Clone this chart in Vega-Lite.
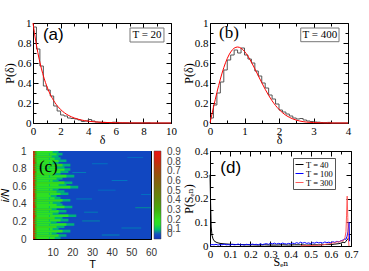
{
"$schema": "https://vega.github.io/schema/vega-lite/v6.json",
"autosize": {"type": "none"},
"padding": {"left": 33, "top": 23, "right": 336, "bottom": 248},
"background": "white",
"config": {
  "view": {"stroke": "black", "strokeWidth": 1},
  "axis": {"grid": false, "domain": false, "labelFlush": false, "labelOverlap": false, "tickColor": "black", "labelColor": "black", "titleColor": "black", "labelFont": "Liberation Serif", "titleFont": "Liberation Serif", "labelFontSize": 11, "titleFontSize": 12, "titleFontWeight": "normal", "tickWidth": 1}
},
"columns": 2,
"spacing": {"row": 28, "column": 39},
"bounds": "flush",
"resolve": {"scale": {"fill": "independent", "stroke": "independent", "strokeWidth": "independent"}, "legend": {"fill": "independent", "stroke": "independent", "strokeWidth": "independent"}},
"concat": [
  {"width": 138, "height": 100,
   "layer": [
    {"data": {"values": [
      {"d":0,"p":0.96},{"d":0.25,"p":0.74},{"d":0.5,"p":0.57},{"d":0.75,"p":0.37},{"d":1,"p":0.33},{"d":1.25,"p":0.27},{"d":1.5,"p":0.17},{"d":1.75,"p":0.12},{"d":2,"p":0.08},{"d":2.25,"p":0.07},{"d":2.5,"p":0.05},{"d":2.75,"p":0.045},{"d":3,"p":0.04},{"d":3.25,"p":0.03},{"d":3.5,"p":0.015},{"d":3.75,"p":0.02},{"d":4,"p":0.035},{"d":4.25,"p":0.02},{"d":4.5,"p":0.01},{"d":4.75,"p":0.008},{"d":5,"p":0.006},{"d":5.25,"p":0.005},{"d":5.5,"p":0.003},{"d":5.75,"p":0.008},{"d":6,"p":0.006},{"d":6.25,"p":0.002},{"d":6.5,"p":0.002},{"d":7,"p":0.001},{"d":8,"p":0.002},{"d":8.5,"p":0},{"d":10,"p":0}
     ]},
     "mark": {"type": "line", "interpolate": "step-after", "color": "#555555", "strokeWidth": 1},
     "encoding": {
      "x": {"field": "d", "type": "quantitative", "scale": {"domain": [0, 10], "nice": false},
            "axis": {"orient": "bottom", "values": [0,1,2,3,4,5,6,7,8,9,10], "labelExpr": "datum.value % 2 == 0 ? format(datum.value, '~g') : ''", "tickSize": {"condition": {"test": "datum.value % 2 == 0", "value": -5}, "value": -3}, "labelPadding": 7, "title": "δ", "titlePadding": -4}},
      "y": {"field": "p", "type": "quantitative", "scale": {"domain": [0, 1], "nice": false},
            "axis": {"orient": "left", "values": [0,0.1,0.2,0.3,0.4,0.5,0.6,0.7,0.8,0.9,1], "labelExpr": "round(datum.value*10) % 2 == 0 ? format(datum.value, '~g') : ''", "tickSize": {"condition": {"test": "round(datum.value*10) % 2 == 0", "value": -5}, "value": -3}, "labelPadding": 7, "title": "P(δ)", "titlePadding": 1}}
     }},
    {"data": {"values": [
      {"d":0,"p":1},{"d":0.1,"p":0.905},{"d":0.2,"p":0.819},{"d":0.3,"p":0.741},{"d":0.4,"p":0.67},{"d":0.5,"p":0.607},{"d":0.6,"p":0.549},{"d":0.8,"p":0.449},{"d":1,"p":0.368},{"d":1.2,"p":0.301},{"d":1.4,"p":0.247},{"d":1.6,"p":0.202},{"d":1.8,"p":0.165},{"d":2,"p":0.135},{"d":2.3,"p":0.1},{"d":2.6,"p":0.074},{"d":3,"p":0.05},{"d":3.5,"p":0.03},{"d":4,"p":0.018},{"d":4.5,"p":0.011},{"d":5,"p":0.0067},{"d":6,"p":0.0025},{"d":7,"p":0.0009},{"d":8,"p":0.0003},{"d":10,"p":0}
     ]},
     "mark": {"type": "line", "color": "#ff0000", "strokeWidth": 1, "interpolate": "monotone"},
     "encoding": {
      "x": {"field": "d", "type": "quantitative", "axis": {"orient": "top", "values": [0,1,2,3,4,5,6,7,8,9,10], "labels": false, "tickSize": {"condition": {"test": "datum.value % 2 == 0", "value": -5}, "value": -3}, "title": null}},
      "y": {"field": "p", "type": "quantitative", "axis": {"orient": "right", "values": [0,0.1,0.2,0.3,0.4,0.5,0.6,0.7,0.8,0.9,1], "labels": false, "tickSize": {"condition": {"test": "round(datum.value*10) % 2 == 0", "value": -5}, "value": -3}, "title": null}}
     }},
    {"data": {"values": [{}]},
     "mark": {"type": "rect", "fill": "white", "stroke": "#777777", "strokeWidth": 1},
     "encoding": {"x": {"datum": 7.03, "type": "quantitative", "axis": null}, "x2": {"datum": 9.49}, "y": {"datum": 0.95, "type": "quantitative", "axis": null}, "y2": {"datum": 0.81}}},
    {"data": {"values": [{}]},
     "mark": {"type": "text", "text": "T = 20", "font": "Liberation Serif", "fontSize": 11, "baseline": "middle", "align": "center"},
     "encoding": {"x": {"datum": 8.26, "type": "quantitative", "axis": null}, "y": {"datum": 0.878, "type": "quantitative", "axis": null}}},
    {"data": {"values": [{}]},
     "mark": {"type": "text", "text": "(a)", "font": "Liberation Sans", "fontSize": 17, "baseline": "middle", "align": "center"},
     "encoding": {"x": {"datum": 1.47, "type": "quantitative", "axis": null}, "y": {"datum": 0.885, "type": "quantitative", "axis": null}}}
   ],
   "resolve": {"axis": {"x": "independent", "y": "independent"}}
  },
  {"width": 138, "height": 100,
   "layer": [
    {"data": {"values": [
      {"d":0,"p":0.05},{"d":0.1,"p":0.18},{"d":0.2,"p":0.3},{"d":0.3,"p":0.41},{"d":0.4,"p":0.53},{"d":0.5,"p":0.63},{"d":0.6,"p":0.68},{"d":0.7,"p":0.73},{"d":0.8,"p":0.7},{"d":0.9,"p":0.75},{"d":1,"p":0.68},{"d":1.1,"p":0.64},{"d":1.2,"p":0.6},{"d":1.3,"p":0.52},{"d":1.4,"p":0.47},{"d":1.5,"p":0.4},{"d":1.6,"p":0.35},{"d":1.7,"p":0.28},{"d":1.8,"p":0.24},{"d":1.9,"p":0.19},{"d":2,"p":0.13},{"d":2.1,"p":0.11},{"d":2.2,"p":0.09},{"d":2.3,"p":0.07},{"d":2.4,"p":0.05},{"d":2.5,"p":0.04},{"d":2.6,"p":0.045},{"d":2.7,"p":0.03},{"d":2.8,"p":0.02},{"d":2.9,"p":0.015},{"d":3,"p":0.01},{"d":3.1,"p":0.008},{"d":3.2,"p":0.005},{"d":3.3,"p":0.004},{"d":3.4,"p":0.006},{"d":3.5,"p":0},{"d":4,"p":0}
     ]},
     "mark": {"type": "line", "interpolate": "step-after", "color": "#555555", "strokeWidth": 1},
     "encoding": {
      "x": {"field": "d", "type": "quantitative", "scale": {"domain": [0, 4], "nice": false},
            "axis": {"orient": "bottom", "values": [0,0.5,1,1.5,2,2.5,3,3.5,4], "labelExpr": "datum.value % 1 == 0 ? format(datum.value, '~g') : ''", "tickSize": {"condition": {"test": "datum.value % 1 == 0", "value": -5}, "value": -3}, "labelPadding": 7, "title": "δ", "titlePadding": -4}},
      "y": {"field": "p", "type": "quantitative", "scale": {"domain": [0, 1], "nice": false},
            "axis": {"orient": "left", "values": [0,0.1,0.2,0.3,0.4,0.5,0.6,0.7,0.8,0.9,1], "labelExpr": "round(datum.value*10) % 2 == 0 ? format(datum.value, '~g') : ''", "tickSize": {"condition": {"test": "round(datum.value*10) % 2 == 0", "value": -5}, "value": -3}, "labelPadding": 7, "title": "P(δ)", "titlePadding": -1}}
     }},
    {"data": {"values": [
      {"d":0,"p":0},{"d":0.1,"p":0.156},{"d":0.2,"p":0.305},{"d":0.3,"p":0.439},{"d":0.4,"p":0.554},{"d":0.5,"p":0.645},{"d":0.6,"p":0.71},{"d":0.7,"p":0.748},{"d":0.8,"p":0.76},{"d":0.9,"p":0.748},{"d":1,"p":0.716},{"d":1.1,"p":0.668},{"d":1.2,"p":0.608},{"d":1.3,"p":0.542},{"d":1.4,"p":0.472},{"d":1.5,"p":0.403},{"d":1.6,"p":0.337},{"d":1.7,"p":0.276},{"d":1.8,"p":0.222},{"d":1.9,"p":0.175},{"d":2,"p":0.136},{"d":2.2,"p":0.077},{"d":2.4,"p":0.041},{"d":2.6,"p":0.02},{"d":2.8,"p":0.009},{"d":3,"p":0.004},{"d":3.3,"p":0.001},{"d":3.6,"p":0.0001},{"d":4,"p":0}
     ]},
     "mark": {"type": "line", "color": "#ff0000", "strokeWidth": 1, "interpolate": "monotone"},
     "encoding": {
      "x": {"field": "d", "type": "quantitative", "axis": {"orient": "top", "values": [0,0.5,1,1.5,2,2.5,3,3.5,4], "labels": false, "tickSize": {"condition": {"test": "datum.value % 1 == 0", "value": -5}, "value": -3}, "title": null}},
      "y": {"field": "p", "type": "quantitative", "axis": {"orient": "right", "values": [0,0.1,0.2,0.3,0.4,0.5,0.6,0.7,0.8,0.9,1], "labels": false, "tickSize": {"condition": {"test": "round(datum.value*10) % 2 == 0", "value": -5}, "value": -3}, "title": null}}
     }},
    {"data": {"values": [{}]},
     "mark": {"type": "rect", "fill": "white", "stroke": "#777777", "strokeWidth": 1},
     "encoding": {"x": {"datum": 2.63, "type": "quantitative", "axis": null}, "x2": {"datum": 3.74}, "y": {"datum": 0.95, "type": "quantitative", "axis": null}, "y2": {"datum": 0.813}}},
    {"data": {"values": [{}]},
     "mark": {"type": "text", "text": "T = 400", "font": "Liberation Serif", "fontSize": 11, "baseline": "middle", "align": "center"},
     "encoding": {"x": {"datum": 3.185, "type": "quantitative", "axis": null}, "y": {"datum": 0.878, "type": "quantitative", "axis": null}}},
    {"data": {"values": [{}]},
     "mark": {"type": "text", "text": "(b)", "font": "Liberation Serif", "fontSize": 17, "baseline": "middle", "align": "center"},
     "encoding": {"x": {"datum": 0.55, "type": "quantitative", "axis": null}, "y": {"datum": 0.9, "type": "quantitative", "axis": null}}}
   ],
   "resolve": {"axis": {"x": "independent", "y": "independent"}}
  },
  {"width": 118, "height": 88,
   "layer": [
    {"data": {"values": [
      {"a":0,"b":60,"y":0,"z":1,"v":0.03},
      {"a":22,"b":30,"y":0.45,"z":0.46,"v":0.065},{"a":25,"b":34,"y":0.2,"z":0.21,"v":0.07},{"a":40,"b":48,"y":0.66,"z":0.67,"v":0.06},{"a":52,"b":60,"y":0.35,"z":0.36,"v":0.075},{"a":30,"b":38,"y":0.85,"z":0.86,"v":0.06},{"a":45,"b":55,"y":0.12,"z":0.13,"v":0.065},{"a":33,"b":42,"y":0.55,"z":0.56,"v":0.06},{"a":20,"b":27,"y":0.75,"z":0.76,"v":0.065},{"a":48,"b":56,"y":0.92,"z":0.93,"v":0.06},{"a":35,"b":44,"y":0.04,"z":0.05,"v":0.065},{"a":55,"b":60,"y":0.5,"z":0.51,"v":0.06},{"a":26,"b":33,"y":0.3,"z":0.31,"v":0.065},
      {"a":0,"b":14,"y":0,"z":0.029,"v":0.09},{"a":0,"b":11,"y":0,"z":0.029,"v":0.19},{"a":0,"b":1.8,"y":0,"z":0.029,"v":0.36},{"a":0,"b":0.9,"y":0,"z":0.029,"v":0.84},{"a":8.1,"b":8.6,"y":0,"z":0.029,"v":0.1},
      {"a":0,"b":17,"y":0.025,"z":0.054,"v":0.09},{"a":0,"b":13,"y":0.025,"z":0.054,"v":0.22},{"a":0,"b":1.8,"y":0.025,"z":0.054,"v":0.3},{"a":0,"b":0.9,"y":0.025,"z":0.054,"v":0.78},
      {"a":0,"b":12,"y":0.05,"z":0.079,"v":0.09},{"a":0,"b":9.5,"y":0.05,"z":0.079,"v":0.17},{"a":0,"b":1.8,"y":0.05,"z":0.079,"v":0.42},{"a":0,"b":0.9,"y":0.05,"z":0.079,"v":0.88},{"a":8.1,"b":8.6,"y":0.05,"z":0.079,"v":0.1},
      {"a":0,"b":19,"y":0.075,"z":0.104,"v":0.09},{"a":0,"b":15,"y":0.075,"z":0.104,"v":0.2},{"a":0,"b":1.8,"y":0.075,"z":0.104,"v":0.34},{"a":0,"b":0.9,"y":0.075,"z":0.104,"v":0.8},
      {"a":0,"b":13,"y":0.1,"z":0.129,"v":0.09},{"a":0,"b":10,"y":0.1,"z":0.129,"v":0.19},{"a":0,"b":1.8,"y":0.1,"z":0.129,"v":0.36},{"a":0,"b":0.9,"y":0.1,"z":0.129,"v":0.84},{"a":8.1,"b":8.6,"y":0.1,"z":0.129,"v":0.1},
      {"a":0,"b":16,"y":0.125,"z":0.154,"v":0.09},{"a":0,"b":12,"y":0.125,"z":0.154,"v":0.22},{"a":0,"b":1.8,"y":0.125,"z":0.154,"v":0.3},{"a":0,"b":0.9,"y":0.125,"z":0.154,"v":0.78},
      {"a":0,"b":21,"y":0.15,"z":0.179,"v":0.09},{"a":0,"b":17,"y":0.15,"z":0.179,"v":0.17},{"a":0,"b":1.8,"y":0.15,"z":0.179,"v":0.42},{"a":0,"b":0.9,"y":0.15,"z":0.179,"v":0.88},{"a":8.1,"b":8.6,"y":0.15,"z":0.179,"v":0.1},
      {"a":0,"b":12,"y":0.175,"z":0.204,"v":0.09},{"a":0,"b":9,"y":0.175,"z":0.204,"v":0.2},{"a":0,"b":1.8,"y":0.175,"z":0.204,"v":0.34},{"a":0,"b":0.9,"y":0.175,"z":0.204,"v":0.8},
      {"a":0,"b":18,"y":0.2,"z":0.229,"v":0.09},{"a":0,"b":14,"y":0.2,"z":0.229,"v":0.19},{"a":0,"b":1.8,"y":0.2,"z":0.229,"v":0.36},{"a":0,"b":0.9,"y":0.2,"z":0.229,"v":0.84},{"a":8.1,"b":8.6,"y":0.2,"z":0.229,"v":0.1},
      {"a":0,"b":15,"y":0.225,"z":0.254,"v":0.09},{"a":0,"b":11,"y":0.225,"z":0.254,"v":0.22},{"a":0,"b":1.8,"y":0.225,"z":0.254,"v":0.3},{"a":0,"b":0.9,"y":0.225,"z":0.254,"v":0.78},
      {"a":0,"b":22,"y":0.25,"z":0.279,"v":0.09},{"a":0,"b":18,"y":0.25,"z":0.279,"v":0.17},{"a":0,"b":1.8,"y":0.25,"z":0.279,"v":0.42},{"a":0,"b":0.9,"y":0.25,"z":0.279,"v":0.88},{"a":8.1,"b":8.6,"y":0.25,"z":0.279,"v":0.1},
      {"a":0,"b":13,"y":0.275,"z":0.304,"v":0.09},{"a":0,"b":10,"y":0.275,"z":0.304,"v":0.2},{"a":0,"b":1.8,"y":0.275,"z":0.304,"v":0.34},{"a":0,"b":0.9,"y":0.275,"z":0.304,"v":0.8},
      {"a":0,"b":17,"y":0.3,"z":0.329,"v":0.09},{"a":0,"b":13,"y":0.3,"z":0.329,"v":0.19},{"a":0,"b":1.8,"y":0.3,"z":0.329,"v":0.36},{"a":0,"b":0.9,"y":0.3,"z":0.329,"v":0.84},{"a":8.1,"b":8.6,"y":0.3,"z":0.329,"v":0.1},
      {"a":0,"b":12,"y":0.325,"z":0.354,"v":0.09},{"a":0,"b":9.5,"y":0.325,"z":0.354,"v":0.22},{"a":0,"b":1.8,"y":0.325,"z":0.354,"v":0.3},{"a":0,"b":0.9,"y":0.325,"z":0.354,"v":0.78},
      {"a":0,"b":20,"y":0.35,"z":0.379,"v":0.09},{"a":0,"b":16,"y":0.35,"z":0.379,"v":0.17},{"a":0,"b":1.8,"y":0.35,"z":0.379,"v":0.42},{"a":0,"b":0.9,"y":0.35,"z":0.379,"v":0.88},{"a":8.1,"b":8.6,"y":0.35,"z":0.379,"v":0.1},
      {"a":0,"b":15,"y":0.375,"z":0.404,"v":0.09},{"a":0,"b":12,"y":0.375,"z":0.404,"v":0.2},{"a":0,"b":1.8,"y":0.375,"z":0.404,"v":0.34},{"a":0,"b":0.9,"y":0.375,"z":0.404,"v":0.8},
      {"a":0,"b":14,"y":0.4,"z":0.429,"v":0.09},{"a":0,"b":10,"y":0.4,"z":0.429,"v":0.19},{"a":0,"b":1.8,"y":0.4,"z":0.429,"v":0.36},{"a":0,"b":0.9,"y":0.4,"z":0.429,"v":0.84},{"a":8.1,"b":8.6,"y":0.4,"z":0.429,"v":0.1},
      {"a":0,"b":19,"y":0.425,"z":0.454,"v":0.09},{"a":0,"b":15,"y":0.425,"z":0.454,"v":0.22},{"a":0,"b":1.8,"y":0.425,"z":0.454,"v":0.3},{"a":0,"b":0.9,"y":0.425,"z":0.454,"v":0.78},
      {"a":0,"b":14,"y":0.45,"z":0.479,"v":0.09},{"a":0,"b":11,"y":0.45,"z":0.479,"v":0.17},{"a":0,"b":1.8,"y":0.45,"z":0.479,"v":0.42},{"a":0,"b":0.9,"y":0.45,"z":0.479,"v":0.88},{"a":8.1,"b":8.6,"y":0.45,"z":0.479,"v":0.1},
      {"a":0,"b":12,"y":0.475,"z":0.504,"v":0.09},{"a":0,"b":9,"y":0.475,"z":0.504,"v":0.2},{"a":0,"b":1.8,"y":0.475,"z":0.504,"v":0.34},{"a":0,"b":0.9,"y":0.475,"z":0.504,"v":0.8},
      {"a":0,"b":18,"y":0.5,"z":0.529,"v":0.09},{"a":0,"b":14,"y":0.5,"z":0.529,"v":0.19},{"a":0,"b":1.8,"y":0.5,"z":0.529,"v":0.36},{"a":0,"b":0.9,"y":0.5,"z":0.529,"v":0.84},{"a":8.1,"b":8.6,"y":0.5,"z":0.529,"v":0.1},
      {"a":0,"b":16,"y":0.525,"z":0.554,"v":0.09},{"a":0,"b":12,"y":0.525,"z":0.554,"v":0.22},{"a":0,"b":1.8,"y":0.525,"z":0.554,"v":0.3},{"a":0,"b":0.9,"y":0.525,"z":0.554,"v":0.78},
      {"a":0,"b":13,"y":0.55,"z":0.579,"v":0.09},{"a":0,"b":10,"y":0.55,"z":0.579,"v":0.17},{"a":0,"b":1.8,"y":0.55,"z":0.579,"v":0.42},{"a":0,"b":0.9,"y":0.55,"z":0.579,"v":0.88},{"a":8.1,"b":8.6,"y":0.55,"z":0.579,"v":0.1},
      {"a":0,"b":23,"y":0.575,"z":0.604,"v":0.09},{"a":0,"b":19,"y":0.575,"z":0.604,"v":0.2},{"a":0,"b":1.8,"y":0.575,"z":0.604,"v":0.34},{"a":0,"b":0.9,"y":0.575,"z":0.604,"v":0.8},
      {"a":0,"b":17,"y":0.6,"z":0.629,"v":0.09},{"a":0,"b":13,"y":0.6,"z":0.629,"v":0.19},{"a":0,"b":1.8,"y":0.6,"z":0.629,"v":0.36},{"a":0,"b":0.9,"y":0.6,"z":0.629,"v":0.84},{"a":8.1,"b":8.6,"y":0.6,"z":0.629,"v":0.1},
      {"a":0,"b":20,"y":0.625,"z":0.654,"v":0.09},{"a":0,"b":16,"y":0.625,"z":0.654,"v":0.22},{"a":0,"b":1.8,"y":0.625,"z":0.654,"v":0.3},{"a":0,"b":0.9,"y":0.625,"z":0.654,"v":0.78},
      {"a":0,"b":13,"y":0.65,"z":0.679,"v":0.09},{"a":0,"b":10,"y":0.65,"z":0.679,"v":0.17},{"a":0,"b":1.8,"y":0.65,"z":0.679,"v":0.42},{"a":0,"b":0.9,"y":0.65,"z":0.679,"v":0.88},{"a":8.1,"b":8.6,"y":0.65,"z":0.679,"v":0.1},
      {"a":0,"b":15,"y":0.675,"z":0.704,"v":0.09},{"a":0,"b":12,"y":0.675,"z":0.704,"v":0.2},{"a":0,"b":1.8,"y":0.675,"z":0.704,"v":0.34},{"a":0,"b":0.9,"y":0.675,"z":0.704,"v":0.8},
      {"a":0,"b":21,"y":0.7,"z":0.729,"v":0.09},{"a":0,"b":17,"y":0.7,"z":0.729,"v":0.19},{"a":0,"b":1.8,"y":0.7,"z":0.729,"v":0.36},{"a":0,"b":0.9,"y":0.7,"z":0.729,"v":0.84},{"a":8.1,"b":8.6,"y":0.7,"z":0.729,"v":0.1},
      {"a":0,"b":14,"y":0.725,"z":0.754,"v":0.09},{"a":0,"b":11,"y":0.725,"z":0.754,"v":0.22},{"a":0,"b":1.8,"y":0.725,"z":0.754,"v":0.3},{"a":0,"b":0.9,"y":0.725,"z":0.754,"v":0.78},
      {"a":0,"b":18,"y":0.75,"z":0.779,"v":0.09},{"a":0,"b":14,"y":0.75,"z":0.779,"v":0.17},{"a":0,"b":1.8,"y":0.75,"z":0.779,"v":0.42},{"a":0,"b":0.9,"y":0.75,"z":0.779,"v":0.88},{"a":8.1,"b":8.6,"y":0.75,"z":0.779,"v":0.1},
      {"a":0,"b":19,"y":0.775,"z":0.804,"v":0.09},{"a":0,"b":16,"y":0.775,"z":0.804,"v":0.2},{"a":0,"b":1.8,"y":0.775,"z":0.804,"v":0.34},{"a":0,"b":0.9,"y":0.775,"z":0.804,"v":0.8},
      {"a":0,"b":16,"y":0.8,"z":0.829,"v":0.09},{"a":0,"b":12,"y":0.8,"z":0.829,"v":0.19},{"a":0,"b":1.8,"y":0.8,"z":0.829,"v":0.36},{"a":0,"b":0.9,"y":0.8,"z":0.829,"v":0.84},{"a":8.1,"b":8.6,"y":0.8,"z":0.829,"v":0.1},
      {"a":0,"b":19,"y":0.825,"z":0.854,"v":0.09},{"a":0,"b":15,"y":0.825,"z":0.854,"v":0.22},{"a":0,"b":1.8,"y":0.825,"z":0.854,"v":0.3},{"a":0,"b":0.9,"y":0.825,"z":0.854,"v":0.78},
      {"a":0,"b":13,"y":0.85,"z":0.879,"v":0.09},{"a":0,"b":10,"y":0.85,"z":0.879,"v":0.17},{"a":0,"b":1.8,"y":0.85,"z":0.879,"v":0.42},{"a":0,"b":0.9,"y":0.85,"z":0.879,"v":0.88},{"a":8.1,"b":8.6,"y":0.85,"z":0.879,"v":0.1},
      {"a":0,"b":17,"y":0.875,"z":0.904,"v":0.09},{"a":0,"b":13,"y":0.875,"z":0.904,"v":0.2},{"a":0,"b":1.8,"y":0.875,"z":0.904,"v":0.34},{"a":0,"b":0.9,"y":0.875,"z":0.904,"v":0.8},
      {"a":0,"b":14,"y":0.9,"z":0.929,"v":0.09},{"a":0,"b":11,"y":0.9,"z":0.929,"v":0.19},{"a":0,"b":1.8,"y":0.9,"z":0.929,"v":0.36},{"a":0,"b":0.9,"y":0.9,"z":0.929,"v":0.84},{"a":8.1,"b":8.6,"y":0.9,"z":0.929,"v":0.1},
      {"a":0,"b":13,"y":0.925,"z":0.954,"v":0.09},{"a":0,"b":9.5,"y":0.925,"z":0.954,"v":0.22},{"a":0,"b":1.8,"y":0.925,"z":0.954,"v":0.3},{"a":0,"b":0.9,"y":0.925,"z":0.954,"v":0.78},
      {"a":0,"b":15,"y":0.95,"z":0.979,"v":0.09},{"a":0,"b":12,"y":0.95,"z":0.979,"v":0.17},{"a":0,"b":1.8,"y":0.95,"z":0.979,"v":0.42},{"a":0,"b":0.9,"y":0.95,"z":0.979,"v":0.88},{"a":8.1,"b":8.6,"y":0.95,"z":0.979,"v":0.1},
      {"a":0,"b":13,"y":0.975,"z":1,"v":0.09},{"a":0,"b":10,"y":0.975,"z":1,"v":0.2},{"a":0,"b":1.8,"y":0.975,"z":1,"v":0.34},{"a":0,"b":0.9,"y":0.975,"z":1,"v":0.8}
     ]},
     "mark": {"type": "rect"},
     "encoding": {
      "x": {"field": "a", "type": "quantitative", "scale": {"domain": [0, 60], "nice": false},
            "axis": {"orient": "bottom", "values": [10,20,30,40,50,60], "format": "d", "tickSize": -4, "labelPadding": 12, "labelFont": "Liberation Sans", "labelFontSize": 10, "labelColor": "#333333", "title": "T", "titleFont": "Liberation Sans", "titleFontSize": 11, "titlePadding": 1}},
      "x2": {"field": "b"},
      "y": {"field": "y", "type": "quantitative", "scale": {"domain": [0, 1], "nice": false},
            "axis": {"orient": "left", "values": [0,0.2,0.4,0.6,0.8,1], "format": "~g", "tickSize": -4, "labelPadding": 11, "labelFont": "Liberation Sans", "labelFontSize": 10, "labelColor": "#333333", "title": "i/N", "titleFont": "Liberation Sans", "titleFontStyle": "italic", "titleFontSize": 11, "titlePadding": 2}},
      "y2": {"field": "z"},
      "fill": {"field": "v", "type": "quantitative",
               "scale": {"domain": [0, 0.05, 0.08, 0.12, 0.2, 0.3, 0.4, 0.5, 0.6, 0.7, 0.8, 0.91], "range": ["#1038c0", "#1850c0", "#18a080", "#20e030", "#30e020", "#40b010", "#5a9010", "#707810", "#856010", "#a04810", "#c82a10", "#f01010"], "clamp": true},
               "legend": {"orient": "none", "legendX": 121, "legendY": 0, "title": null, "direction": "vertical", "gradientLength": 88, "gradientThickness": 7, "gradientStrokeColor": "#444444", "gradientStrokeWidth": 0.5, "values": [0,0.1,0.2,0.3,0.4,0.5,0.6,0.7,0.8,0.9], "format": "~g", "labelFont": "Liberation Sans", "labelFontSize": 10, "labelColor": "#444444", "labelOffset": 6, "padding": 0, "labelOverlap": false}}
     }},
    {"data": {"values": [{}]},
     "mark": {"type": "text", "text": "(c)", "font": "Liberation Serif", "fontSize": 17, "baseline": "middle", "align": "center"},
     "encoding": {
      "x": {"datum": 7.8, "type": "quantitative", "axis": {"orient": "top", "values": [10,20,30,40,50,60], "labels": false, "tickSize": -4, "title": null}},
      "y": {"datum": 0.815, "type": "quantitative", "axis": {"orient": "right", "values": [0,0.2,0.4,0.6,0.8,1], "labels": false, "tickSize": -4, "title": null}}
     }}
   ],
   "resolve": {"axis": {"x": "independent", "y": "independent"}}
  },
  {"width": 141, "height": 95,
   "layer": [
    {"data": {"values": [
      {"s":0,"p":0.3,"k":"T = 40"},{"s":0.003,"p":0.18,"k":"T = 40"},{"s":0.006,"p":0.08,"k":"T = 40"},{"s":0.01,"p":0.045,"k":"T = 40"},{"s":0.015,"p":0.03,"k":"T = 40"},{"s":0.02,"p":0.022,"k":"T = 40"},{"s":0.03,"p":0.016,"k":"T = 40"},{"s":0.04,"p":0.013,"k":"T = 40"},{"s":0.05,"p":0.011,"k":"T = 40"},{"s":0.07,"p":0.009,"k":"T = 40"},{"s":0.09,"p":0.008,"k":"T = 40"},{"s":0.11,"p":0.007,"k":"T = 40"},{"s":0.13,"p":0.006,"k":"T = 40"},{"s":0.15,"p":0.006,"k":"T = 40"},{"s":0.18,"p":0.005,"k":"T = 40"},{"s":0.21,"p":0.005,"k":"T = 40"},{"s":0.24,"p":0.004,"k":"T = 40"},{"s":0.27,"p":0.005,"k":"T = 40"},{"s":0.3,"p":0.004,"k":"T = 40"},{"s":0.33,"p":0.004,"k":"T = 40"},{"s":0.36,"p":0.005,"k":"T = 40"},{"s":0.39,"p":0.004,"k":"T = 40"},{"s":0.42,"p":0.005,"k":"T = 40"},{"s":0.45,"p":0.005,"k":"T = 40"},{"s":0.48,"p":0.004,"k":"T = 40"},{"s":0.51,"p":0.005,"k":"T = 40"},{"s":0.54,"p":0.005,"k":"T = 40"},{"s":0.57,"p":0.006,"k":"T = 40"},{"s":0.6,"p":0.006,"k":"T = 40"},{"s":0.62,"p":0.008,"k":"T = 40"},{"s":0.64,"p":0.01,"k":"T = 40"},{"s":0.65,"p":0.012,"k":"T = 40"},{"s":0.66,"p":0.016,"k":"T = 40"},{"s":0.67,"p":0.014,"k":"T = 40"},{"s":0.675,"p":0.02,"k":"T = 40"},{"s":0.68,"p":0.026,"k":"T = 40"},{"s":0.685,"p":0.03,"k":"T = 40"},{"s":0.69,"p":0.035,"k":"T = 40"},
      {"s":0,"p":0.004,"k":"T = 100"},{"s":0.01,"p":0.006,"k":"T = 100"},{"s":0.02,"p":0.005,"k":"T = 100"},{"s":0.03,"p":0.007,"k":"T = 100"},{"s":0.04,"p":0.004,"k":"T = 100"},{"s":0.05,"p":0.006,"k":"T = 100"},{"s":0.06,"p":0.005,"k":"T = 100"},{"s":0.07,"p":0.008,"k":"T = 100"},{"s":0.08,"p":0.005,"k":"T = 100"},{"s":0.09,"p":0.006,"k":"T = 100"},{"s":0.1,"p":0.004,"k":"T = 100"},{"s":0.11,"p":0.007,"k":"T = 100"},{"s":0.12,"p":0.005,"k":"T = 100"},{"s":0.13,"p":0.006,"k":"T = 100"},{"s":0.14,"p":0.008,"k":"T = 100"},{"s":0.15,"p":0.005,"k":"T = 100"},{"s":0.16,"p":0.006,"k":"T = 100"},{"s":0.17,"p":0.004,"k":"T = 100"},{"s":0.18,"p":0.007,"k":"T = 100"},{"s":0.19,"p":0.006,"k":"T = 100"},{"s":0.2,"p":0.005,"k":"T = 100"},{"s":0.21,"p":0.008,"k":"T = 100"},{"s":0.22,"p":0.006,"k":"T = 100"},{"s":0.23,"p":0.007,"k":"T = 100"},{"s":0.24,"p":0.005,"k":"T = 100"},{"s":0.25,"p":0.009,"k":"T = 100"},{"s":0.26,"p":0.006,"k":"T = 100"},{"s":0.27,"p":0.008,"k":"T = 100"},{"s":0.28,"p":0.01,"k":"T = 100"},{"s":0.29,"p":0.007,"k":"T = 100"},{"s":0.3,"p":0.011,"k":"T = 100"},{"s":0.31,"p":0.009,"k":"T = 100"},{"s":0.32,"p":0.012,"k":"T = 100"},{"s":0.33,"p":0.008,"k":"T = 100"},{"s":0.34,"p":0.011,"k":"T = 100"},{"s":0.35,"p":0.009,"k":"T = 100"},{"s":0.36,"p":0.012,"k":"T = 100"},{"s":0.37,"p":0.01,"k":"T = 100"},{"s":0.38,"p":0.008,"k":"T = 100"},{"s":0.39,"p":0.011,"k":"T = 100"},{"s":0.4,"p":0.009,"k":"T = 100"},{"s":0.41,"p":0.012,"k":"T = 100"},{"s":0.42,"p":0.01,"k":"T = 100"},{"s":0.43,"p":0.014,"k":"T = 100"},{"s":0.44,"p":0.011,"k":"T = 100"},{"s":0.45,"p":0.016,"k":"T = 100"},{"s":0.46,"p":0.012,"k":"T = 100"},{"s":0.47,"p":0.015,"k":"T = 100"},{"s":0.48,"p":0.011,"k":"T = 100"},{"s":0.49,"p":0.013,"k":"T = 100"},{"s":0.5,"p":0.01,"k":"T = 100"},{"s":0.51,"p":0.014,"k":"T = 100"},{"s":0.52,"p":0.012,"k":"T = 100"},{"s":0.53,"p":0.016,"k":"T = 100"},{"s":0.54,"p":0.013,"k":"T = 100"},{"s":0.55,"p":0.015,"k":"T = 100"},{"s":0.56,"p":0.012,"k":"T = 100"},{"s":0.57,"p":0.017,"k":"T = 100"},{"s":0.58,"p":0.014,"k":"T = 100"},{"s":0.59,"p":0.016,"k":"T = 100"},{"s":0.6,"p":0.013,"k":"T = 100"},{"s":0.61,"p":0.018,"k":"T = 100"},{"s":0.62,"p":0.015,"k":"T = 100"},{"s":0.63,"p":0.02,"k":"T = 100"},{"s":0.64,"p":0.017,"k":"T = 100"},{"s":0.65,"p":0.022,"k":"T = 100"},{"s":0.66,"p":0.025,"k":"T = 100"},{"s":0.67,"p":0.03,"k":"T = 100"},{"s":0.675,"p":0.028,"k":"T = 100"},{"s":0.68,"p":0.04,"k":"T = 100"},{"s":0.685,"p":0.06,"k":"T = 100"},{"s":0.69,"p":0.1,"k":"T = 100"},{"s":0.693,"p":0.02,"k":"T = 100"},
      {"s":0.45,"p":0.001,"k":"T = 300"},{"s":0.5,"p":0.002,"k":"T = 300"},{"s":0.53,"p":0.003,"k":"T = 300"},{"s":0.56,"p":0.005,"k":"T = 300"},{"s":0.58,"p":0.008,"k":"T = 300"},{"s":0.6,"p":0.01,"k":"T = 300"},{"s":0.61,"p":0.014,"k":"T = 300"},{"s":0.62,"p":0.012,"k":"T = 300"},{"s":0.63,"p":0.018,"k":"T = 300"},{"s":0.64,"p":0.016,"k":"T = 300"},{"s":0.65,"p":0.022,"k":"T = 300"},{"s":0.66,"p":0.02,"k":"T = 300"},{"s":0.665,"p":0.028,"k":"T = 300"},{"s":0.67,"p":0.035,"k":"T = 300"},{"s":0.675,"p":0.06,"k":"T = 300"},{"s":0.678,"p":0.13,"k":"T = 300"},{"s":0.681,"p":0.21,"k":"T = 300"},{"s":0.684,"p":0.12,"k":"T = 300"},{"s":0.687,"p":0.03,"k":"T = 300"},{"s":0.69,"p":0,"k":"T = 300"}
     ]},
     "mark": {"type": "line"},
     "encoding": {
      "x": {"field": "s", "type": "quantitative", "scale": {"domain": [0, 0.7], "nice": false},
            "axis": {"orient": "bottom", "values": [0,0.05,0.1,0.15,0.2,0.25,0.3,0.35,0.4,0.45,0.5,0.55,0.6,0.65,0.7], "labelExpr": "round(datum.value*20) % 2 == 0 ? format(datum.value, '~g') : ''", "tickSize": {"condition": {"test": "round(datum.value*20) % 2 == 0", "value": -5}, "value": -3}, "labelPadding": 7, "title": "Sₑₙ", "titleFont": "Liberation Serif, DejaVu Serif", "titlePadding": -5}},
      "y": {"field": "p", "type": "quantitative", "scale": {"domain": [0, 0.4], "nice": false},
            "axis": {"orient": "left", "values": [0,0.05,0.1,0.15,0.2,0.25,0.3,0.35,0.4], "labelExpr": "round(datum.value*20) % 2 == 0 ? format(datum.value, '~g') : ''", "tickSize": {"condition": {"test": "round(datum.value*20) % 2 == 0", "value": -5}, "value": -3}, "labelPadding": 7, "title": "P(Sₑₙ)", "titleFont": "Liberation Serif, DejaVu Serif", "titlePadding": -1}},
      "stroke": {"field": "k", "type": "nominal", "scale": {"domain": ["T = 40", "T = 100", "T = 300"], "range": ["#000000", "#0000ff", "#ff5a5a"]},
                 "legend": {"orient": "none", "legendX": 83, "legendY": 7, "title": null, "symbolType": "stroke", "symbolSize": 64, "symbolStrokeWidth": 1.5, "labelFont": "Liberation Serif", "labelFontSize": 8.5, "labelOffset": 2, "rowPadding": -2, "padding": 2, "strokeColor": "#555555", "fillColor": "white"}},
      "strokeWidth": {"field": "k", "type": "ordinal", "scale": {"domain": ["T = 40", "T = 100", "T = 300"], "range": [1, 1, 2.5]}, "legend": null}
     }},
    {"data": {"values": [{}]},
     "mark": {"type": "text", "text": "(d)", "font": "Liberation Sans", "fontSize": 17, "baseline": "middle", "align": "center"},
     "encoding": {
      "x": {"datum": 0.103, "type": "quantitative", "axis": {"orient": "top", "values": [0,0.05,0.1,0.15,0.2,0.25,0.3,0.35,0.4,0.45,0.5,0.55,0.6,0.65,0.7], "labels": false, "tickSize": {"condition": {"test": "round(datum.value*20) % 2 == 0", "value": -5}, "value": -3}, "title": null}},
      "y": {"datum": 0.327, "type": "quantitative", "axis": {"orient": "right", "values": [0,0.05,0.1,0.15,0.2,0.25,0.3,0.35,0.4], "labels": false, "tickSize": {"condition": {"test": "round(datum.value*20) % 2 == 0", "value": -5}, "value": -3}, "title": null}}
     }}
   ],
   "resolve": {"axis": {"x": "independent", "y": "independent"}}
  }
]
}
